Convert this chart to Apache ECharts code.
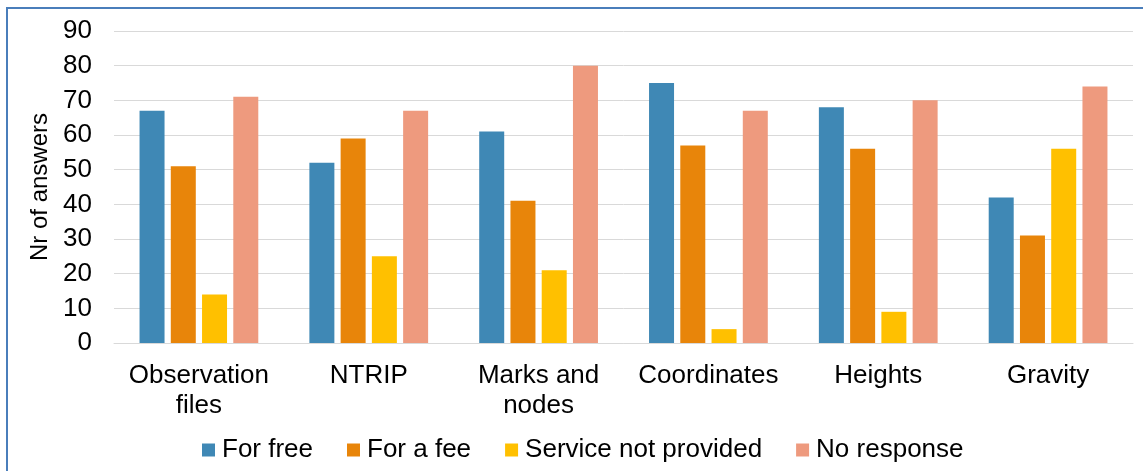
<!DOCTYPE html>
<html>
<head>
<meta charset="utf-8">
<script src="https://cdn.jsdelivr.net/npm/echarts@6/dist/echarts.min.js"></script>
<style>
  html, body { margin: 0; padding: 0; background: #fff; }
  #frame { position: absolute; left: 6px; top: 7px; right: -4px; bottom: -4px; border: 2px solid #4A7EBB; }
  #chart { position: absolute; left: 0; top: 0; width: 1143px; height: 471px; }
</style>
</head>
<body>
<div id="frame"></div>
<div id="chart"></div>
<script>
// answers per service type
const categories = ['Observation\nfiles', 'NTRIP', 'Marks and\nnodes', 'Coordinates', 'Heights', 'Gravity']
const forFree     = [67, 52, 61, 75, 68, 42]
const forFee      = [51, 59, 41, 57, 56, 31]
const notProvided = [14, 25, 21, 4, 9, 56]
const noResponse  = [71, 67, 80, 67, 70, 74]

const font = 'Liberation Sans, Arial, sans-serif'
const colors = ['#3F88B5', '#E8850A', '#FFC000', '#EE9A7E']

function bar(name, data, i) {
  return {
    name, type: 'bar', data,
    barWidth: 25, barGap: '25%',
    itemStyle: { color: colors[i] },
  }
}

const chart = echarts.init(document.getElementById('chart'), null, { renderer: 'canvas' })
chart.setOption({
  animation: false,
  textStyle: { fontFamily: font },
  grid: { left: 114, right: 10, top: 31, bottom: 128 },
  legend: {
    left: 202, top: 437, padding: 0,
    itemWidth: 13, itemHeight: 13, itemGap: 34,
    icon: 'rect',
    textStyle: { fontFamily: font, fontSize: 26, color: '#000', padding: [0, 0, 0, 2] },
  },
  xAxis: {
    type: 'category', data: categories,
    axisLine: { lineStyle: { color: '#D9D9D9', width: 1 } },
    axisTick: { show: false },
    axisLabel: { color: '#000', fontSize: 26, lineHeight: 30, margin: 18, fontFamily: font, interval: 0 },
  },
  yAxis: {
    type: 'value', min: 0, max: 90, interval: 10,
    name: 'Nr of answers', nameLocation: 'middle', nameGap: 60,
    nameTextStyle: { color: '#000', fontSize: 24, fontFamily: font },
    axisLine: { show: false }, axisTick: { show: false },
    axisLabel: { color: '#000', fontSize: 26, margin: 22, fontFamily: font },
    splitLine: { lineStyle: { color: '#D9D9D9', width: 1 } },
  },
  series: [
    bar('For free', forFree, 0),
    bar('For a fee', forFee, 1),
    bar('Service not provided', notProvided, 2),
    bar('No response', noResponse, 3),
  ],
})
</script>
</body>
</html>
